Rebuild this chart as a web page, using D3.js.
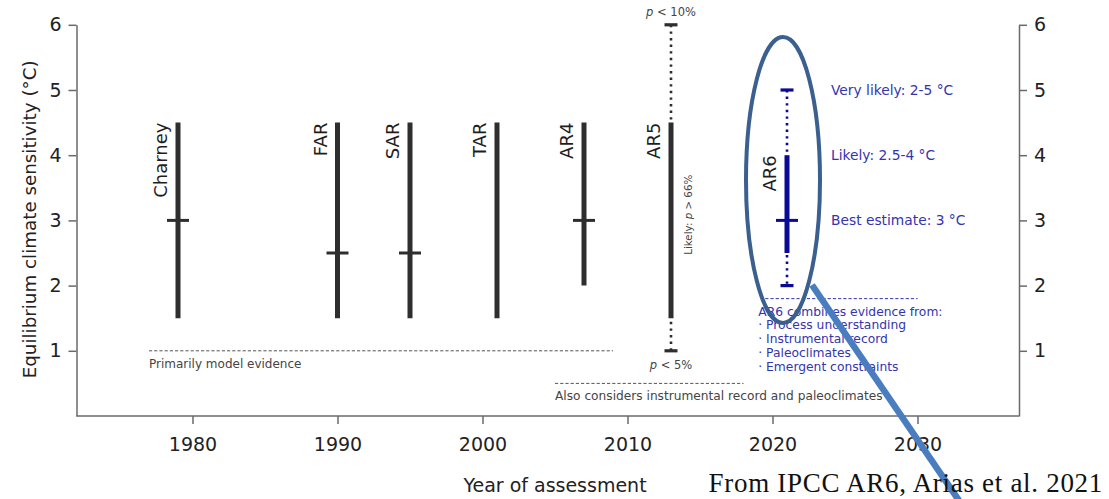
<!DOCTYPE html>
<html>
<head>
<meta charset="utf-8">
<script src="https://cdn.jsdelivr.net/npm/d3@7"></script>
<style>
  html, body { margin: 0; padding: 0; background: #fff; }
  svg { display: block; }
  text { font-family: "DejaVu Sans", sans-serif; }
</style>
</head>
<body>
<svg id="chart" width="1109" height="499"></svg>
<script>
// Assessment reports and their climate sensitivity ranges (°C)
const reports        = ["Charney", "FAR", "SAR", "TAR", "AR4", "AR5", "AR6"];
const reportYears    = [1979, 1990, 1995, 2001, 2007, 2013, 2021];
const likelyLow      = [1.5, 1.5, 1.5, 1.5, 2.0, 1.5, 2.5];
const likelyHigh     = [4.5, 4.5, 4.5, 4.5, 4.5, 4.5, 4.0];
const bestEstimate   = [3.0, 2.5, 2.5, null, 3.0, null, 3.0];
const veryLikelyLow  = [null, null, null, null, null, 1.0, 2.0];
const veryLikelyHigh = [null, null, null, null, null, 6.0, 5.0];

const yearTicks = [1980, 1990, 2000, 2010, 2020, 2030];
const ecsTicks  = [1, 2, 3, 4, 5, 6];

// Evidence-basis annotations: [start year, end year, sensitivity level]
const modelEvidenceSpan = [1977, 2009, 1.0];
const obsEvidenceSpan   = [2005, 2018, 0.5];
const ar6EvidenceSpan   = [2019.5, 2030, 1.8];
const ar6EvidenceLines  = ["AR6 combines evidence from:", "· Process understanding",
                           "· Instrumental record", "· Paleoclimates", "· Emergent constraints"];
const ar6RangeNotes     = [["Very likely: 2-5 °C", 5], ["Likely: 2.5-4 °C", 4], ["Best estimate: 3 °C", 3]];

const svg = d3.select("#chart");
const x = d3.scaleLinear().domain([1972, 2037]).range([76.5, 1019]);
const y = d3.scaleLinear().domain([0, 6]).range([416, 24.8]);

const GREY = "#2e2e2e", AXIS = "#6a6a6a", NAVY = "#0a0a96", BLUE_TXT = "#3434b0";

// Axes
function styleAxis(g) {
  g.selectAll(".domain").attr("stroke", AXIS).attr("stroke-width", 1.5);
  g.selectAll(".tick line").attr("stroke", AXIS).attr("stroke-width", 1.5);
  g.selectAll(".tick text").attr("fill", "#222").style("font-size", "19px");
}
svg.append("g").attr("transform", `translate(${x.range()[0]},0)`)
  .call(d3.axisLeft(y).tickValues(ecsTicks).tickSize(8).tickSizeOuter(0).tickPadding(7).tickFormat(d3.format("d")))
  .call(styleAxis);
svg.append("g").attr("transform", `translate(${x.range()[1]},0)`)
  .call(d3.axisRight(y).tickValues(ecsTicks).tickSize(8).tickSizeOuter(0).tickPadding(7).tickFormat(d3.format("d")))
  .call(styleAxis);
// Bottom baseline spans the full width between the two vertical axes
svg.append("line").attr("x1", x.range()[0]).attr("x2", x.range()[1])
  .attr("y1", y(0)).attr("y2", y(0)).attr("stroke", AXIS).attr("stroke-width", 1.5);
svg.append("g").attr("transform", `translate(0,${y(0)})`)
  .call(d3.axisBottom(x).tickValues(yearTicks).tickSize(8).tickSizeOuter(0).tickPadding(14).tickFormat(d3.format("d")))
  .call(g => g.select(".domain").remove())
  .call(styleAxis);

// Axis titles
svg.append("text").attr("transform", `translate(36,${(y(0) + y(6)) / 2 - 1}) rotate(-90)`)
  .attr("text-anchor", "middle").attr("fill", "#222").style("font-size", "18.3px")
  .text("Equilibrium climate sensitivity (°C)");
svg.append("text").attr("x", 555).attr("y", 492).attr("text-anchor", "middle")
  .attr("fill", "#222").style("font-size", "19px").text("Year of assessment");

// Range bars
const items = reports.map((r, i) => ({
  name: r, year: reportYears[i], lo: likelyLow[i], hi: likelyHigh[i], best: bestEstimate[i],
  vlo: veryLikelyLow[i], vhi: veryLikelyHigh[i], color: r === "AR6" ? NAVY : GREY
}));

const bars = svg.append("g").selectAll("g").data(items).join("g");

// very likely (dotted) extents with end caps
bars.filter(d => d.vlo != null).each(function (d) {
  const g = d3.select(this), cx = x(d.year);
  g.append("line").attr("x1", cx).attr("x2", cx).attr("y1", y(d.vhi)).attr("y2", y(d.vlo))
    .attr("stroke", d.color).attr("stroke-width", 2.6).attr("stroke-dasharray", "2.4 4.2");
  [d.vlo, d.vhi].forEach(v => {
    g.append("line").attr("x1", cx - 6.5).attr("x2", cx + 6.5).attr("y1", y(v)).attr("y2", y(v))
      .attr("stroke", d.color).attr("stroke-width", 3.2);
  });
});

// likely range
bars.append("line")
  .attr("x1", d => x(d.year)).attr("x2", d => x(d.year))
  .attr("y1", d => y(d.hi)).attr("y2", d => y(d.lo))
  .attr("stroke", d => d.color).attr("stroke-width", 5);

// best estimate
bars.filter(d => d.best != null).append("line")
  .attr("x1", d => x(d.year) - 11).attr("x2", d => x(d.year) + 11)
  .attr("y1", d => y(d.best)).attr("y2", d => y(d.best))
  .attr("stroke", d => d.color).attr("stroke-width", 3);

// report names, rotated, ending at the top of the likely range
bars.append("text")
  .attr("transform", d => `translate(${x(d.year) - 11},${y(d.hi)}) rotate(-90)`)
  .attr("text-anchor", "end").attr("fill", "#1e1e1e").style("font-size", "18px")
  .text(d => d.name);

// AR5 probability notes
const ar5 = items[5];
svg.append("text").attr("x", x(ar5.year)).attr("y", y(ar5.vhi) - 9).attr("text-anchor", "middle")
  .attr("fill", "#444").style("font-size", "11.5px")
  .call(t => { t.append("tspan").style("font-style", "italic").text("p"); t.append("tspan").text(" < 10%"); });
svg.append("text").attr("x", x(ar5.year)).attr("y", y(ar5.vlo) + 18).attr("text-anchor", "middle")
  .attr("fill", "#444").style("font-size", "11.5px")
  .call(t => { t.append("tspan").style("font-style", "italic").text("p"); t.append("tspan").text(" < 5%"); });
svg.append("text")
  .attr("transform", `translate(${x(ar5.year) + 21},${y(3.7)}) rotate(-90)`)
  .attr("text-anchor", "end").attr("fill", "#444").style("font-size", "10.3px")
  .call(t => { t.append("tspan").text("Likely: "); t.append("tspan").style("font-style", "italic").text("p");
               t.append("tspan").text(" > 66%"); });

// AR6 range notes
const ar6 = items[6];
svg.append("g").selectAll("text").data(ar6RangeNotes).join("text")
  .attr("x", x(ar6.year) + 44).attr("y", d => y(d[1]) + 5)
  .attr("fill", BLUE_TXT).style("font-size", "13.8px").text(d => d[0]);

// Evidence-basis annotations
function evidenceSpan(span, color) {
  svg.append("line").attr("x1", x(span[0])).attr("x2", x(span[1]))
    .attr("y1", y(span[2])).attr("y2", y(span[2]))
    .attr("stroke", color).attr("stroke-width", 1).attr("stroke-dasharray", "3.2 2");
}
evidenceSpan(modelEvidenceSpan, "#555");
svg.append("text").attr("x", x(modelEvidenceSpan[0])).attr("y", y(modelEvidenceSpan[2]) + 17)
  .attr("fill", "#444").style("font-size", "12px").text("Primarily model evidence");
evidenceSpan(obsEvidenceSpan, "#555");
svg.append("text").attr("x", x(obsEvidenceSpan[0])).attr("y", y(obsEvidenceSpan[2]) + 17)
  .attr("fill", "#444").style("font-size", "12.2px").text("Also considers instrumental record and paleoclimates");
evidenceSpan(ar6EvidenceSpan, BLUE_TXT);
svg.append("g").selectAll("text").data(ar6EvidenceLines).join("text")
  .attr("x", x(ar6EvidenceSpan[0]) - 7).attr("y", (d, i) => y(ar6EvidenceSpan[2]) + 17 + i * 13.8)
  .attr("fill", BLUE_TXT).style("font-size", "12.3px").text(d => d);

// Highlight ring around AR6 and pointer line
svg.append("ellipse").attr("cx", x(ar6.year) - 4).attr("cy", 180).attr("rx", 37).attr("ry", 143)
  .attr("fill", "none").attr("stroke", "#3b5f8e").attr("stroke-width", 4);
svg.append("line").attr("x1", 812).attr("y1", 285).attr("x2", 962).attr("y2", 505)
  .attr("stroke", "#4a7cc0").attr("stroke-width", 6.5);

// Source note
svg.append("text").attr("x", 1103).attr("y", 492).attr("text-anchor", "end")
  .attr("fill", "#111").style("font-family", "'Liberation Serif', 'DejaVu Serif', serif")
  .style("font-size", "27px").style("letter-spacing", "0.7px").text("From IPCC AR6, Arias et al. 2021");
</script>
</body>
</html>
